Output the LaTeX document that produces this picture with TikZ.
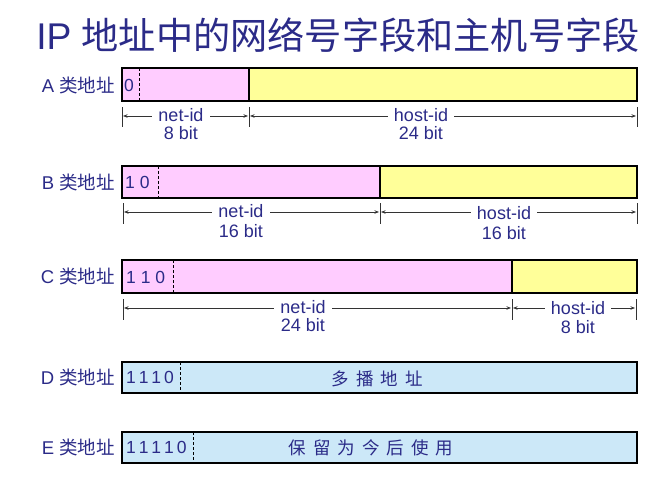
\documentclass[tikz,border=0pt]{standalone}
\usepackage{fontspec}
\setmainfont{Liberation Sans}
\newfontfamily\cjk{Noto Sans CJK SC}
\usetikzlibrary{arrows.meta}
\definecolor{txt}{HTML}{2B2B88}
\definecolor{netc}{HTML}{FFCCFF}
\definecolor{hostc}{HTML}{FFFF99}
\definecolor{multi}{HTML}{CCE8F8}
\begin{document}
\begin{tikzpicture}[x=1pt,y=-1pt,
  field/.style={draw=black,line width=1.3pt,anchor=north west,inner sep=0pt,outer sep=0pt},
  netf/.style={field,fill=netc},
  hostf/.style={field,fill=hostc},
  multif/.style={field,fill=multi},
  sep/.style={draw=black,line width=1pt,dash pattern=on 3pt off 2pt},
  rowlabel/.style={anchor=east,text=txt,font=\fontsize{18.5}{20}\selectfont,inner sep=0pt},
  bits/.style={anchor=west,text=txt,font=\fontsize{17.5}{20}\selectfont,inner sep=0pt},
  dimtxt/.style={fill=white,text=txt,font=\fontsize{18}{20}\selectfont,inner xsep=6pt,inner ysep=1pt},
  bittxt/.style={text=txt,font=\fontsize{18}{20}\selectfont,inner sep=0pt},
  tick/.style={draw=black!80,line width=0.7pt},
  dimline/.style={draw=black!80,line width=0.7pt,{Stealth[length=4.5pt,width=3.5pt]}-{Stealth[length=4.5pt,width=3.5pt]}},
  cjktxt/.style={text=txt,font=\fontsize{17.5}{20}\selectfont\cjk,inner sep=0pt}
]
\useasboundingbox (0,0) rectangle (667,500);

% title
\node[text=txt,font=\fontsize{37.2}{40}\selectfont,inner sep=0pt] (title) at (338,35) {IP {\cjk 地址中的网络号字段和主机号字段}};

% ---------- A ----------
\node[netf,minimum width=127pt,minimum height=33pt] (Anet) at (122,68) {};
\node[hostf,minimum width=388pt,minimum height=33pt] (Ahost) at (249,68) {};
\coordinate (Ad1) at (139,68); \coordinate (Ad2) at (139,101);
\draw[sep] (Ad1) -- (Ad2);
\node[rowlabel] (Alab) at (115,85) {A {\cjk 类地址}};
\node[bits] (Abits) at (124,85) {0};
\coordinate (At1a) at (122,107); \coordinate (At1b) at (122,127);
\coordinate (At2a) at (249,107); \coordinate (At2b) at (249,127);
\coordinate (At3a) at (637,107); \coordinate (At3b) at (637,127);
\draw[tick] (At1a) -- (At1b); \draw[tick] (At2a) -- (At2b); \draw[tick] (At3a) -- (At3b);
\coordinate (Al1) at (123,116); \coordinate (Al2) at (248,116);
\coordinate (Al3) at (250,116); \coordinate (Al4) at (636,116);
\draw[dimline] (Al1) -- (Al2);
\draw[dimline] (Al3) -- (Al4);
\node[dimtxt] (Anetid) at (181,115) {net-id};
\node[bittxt] (Anetb) at (181,133) {8 bit};
\node[dimtxt] (Ahostid) at (421,115) {host-id};
\node[bittxt] (Ahostb) at (421,133) {24 bit};

% ---------- B ----------
\node[netf,minimum width=258pt,minimum height=32pt] (Bnet) at (122,166) {};
\node[hostf,minimum width=257pt,minimum height=32pt] (Bhost) at (380,166) {};
\coordinate (Bd1) at (158,166); \coordinate (Bd2) at (158,198);
\draw[sep] (Bd1) -- (Bd2);
\node[rowlabel] (Blab) at (115,182) {B {\cjk 类地址}};
\node[bits] (Bbits) at (125,182) {1 0};
\coordinate (Bt1a) at (123,203); \coordinate (Bt1b) at (123,224);
\coordinate (Bt2a) at (380,203); \coordinate (Bt2b) at (380,224);
\coordinate (Bt3a) at (637,203); \coordinate (Bt3b) at (637,224);
\draw[tick] (Bt1a) -- (Bt1b); \draw[tick] (Bt2a) -- (Bt2b); \draw[tick] (Bt3a) -- (Bt3b);
\coordinate (Bl1) at (124,212); \coordinate (Bl2) at (379,212);
\coordinate (Bl3) at (381,212); \coordinate (Bl4) at (636,212);
\draw[dimline] (Bl1) -- (Bl2);
\draw[dimline] (Bl3) -- (Bl4);
\node[dimtxt] (Bnetid) at (241,211) {net-id};
\node[bittxt] (Bnetb) at (241,231) {16 bit};
\node[dimtxt] (Bhostid) at (504,213) {host-id};
\node[bittxt] (Bhostb) at (504,233) {16 bit};

% ---------- C ----------
\node[netf,minimum width=390pt,minimum height=33pt] (Cnet) at (122,260) {};
\node[hostf,minimum width=125pt,minimum height=33pt] (Chost) at (512,260) {};
\coordinate (Cd1) at (173,260); \coordinate (Cd2) at (173,293);
\draw[sep] (Cd1) -- (Cd2);
\node[rowlabel] (Clab) at (115,276) {C {\cjk 类地址}};
\node[bits] (Cbits) at (126,277) {1 1 0};
\coordinate (Ct1a) at (123,299); \coordinate (Ct1b) at (123,320);
\coordinate (Ct2a) at (512,299); \coordinate (Ct2b) at (512,320);
\coordinate (Ct3a) at (636,299); \coordinate (Ct3b) at (636,320);
\draw[tick] (Ct1a) -- (Ct1b); \draw[tick] (Ct2a) -- (Ct2b); \draw[tick] (Ct3a) -- (Ct3b);
\coordinate (Cl1) at (124,308); \coordinate (Cl2) at (511,308);
\coordinate (Cl3) at (513,308); \coordinate (Cl4) at (635,308);
\draw[dimline] (Cl1) -- (Cl2);
\draw[dimline] (Cl3) -- (Cl4);
\node[dimtxt] (Cnetid) at (303,307) {net-id};
\node[bittxt] (Cnetb) at (303,325) {24 bit};
\node[dimtxt] (Chostid) at (578,308) {host-id};
\node[bittxt] (Chostb) at (578,327) {8 bit};

% ---------- D ----------
\node[multif,minimum width=515pt,minimum height=31pt] (Dbox) at (122,362) {};
\coordinate (Dd1) at (180,362); \coordinate (Dd2) at (180,393);
\draw[sep] (Dd1) -- (Dd2);
\node[rowlabel] (Dlab) at (115,377) {D {\cjk 类地址}};
\node[bits] (Dbits) at (126,377) {1\,1\,1\,0};
\node[cjktxt] (Dtxt) at (377,379) {多\hspace{7pt}播\hspace{7pt}地\hspace{7pt}址};

% ---------- E ----------
\node[multif,minimum width=515pt,minimum height=31pt] (Ebox) at (122,432) {};
\coordinate (Ed1) at (193,432); \coordinate (Ed2) at (193,463);
\draw[sep] (Ed1) -- (Ed2);
\node[rowlabel] (Elab) at (115,447) {E {\cjk 类地址}};
\node[bits] (Ebits) at (126,447) {1\,1\,1\,1\,0};
\node[cjktxt] (Etxt) at (371,448) {保\hspace{7pt}留\hspace{7pt}为\hspace{7pt}今\hspace{7pt}后\hspace{7pt}使\hspace{7pt}用};
\end{tikzpicture}
\end{document}
